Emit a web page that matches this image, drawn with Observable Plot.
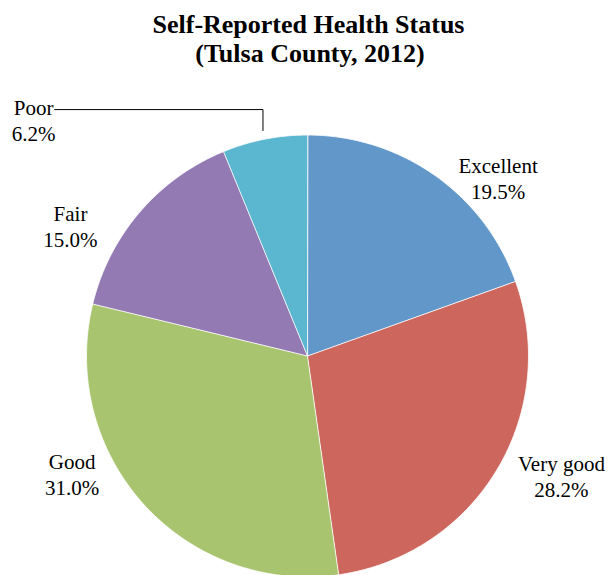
<!DOCTYPE html>
<html>
<head>
<meta charset="utf-8">
<script src="https://cdn.jsdelivr.net/npm/d3@7"></script>
<script src="https://cdn.jsdelivr.net/npm/@observablehq/plot@0.6"></script>
<style>
  html, body { margin: 0; padding: 0; background: #fff; }
  #title {
    width: 608px; text-align: center; box-sizing: border-box;
    font-family: "Liberation Serif", "Times New Roman", serif; font-weight: bold;
    font-size: 26px; line-height: 29px; padding-top: 10px; height: 68px; color: #000;
  }
  #chart svg text { font-family: "Liberation Serif", "Times New Roman", serif !important; }
</style>
</head>
<body>
<div id="title"><div style="margin-left:9px">Self-Reported Health Status</div><div style="margin-left:12px">(Tulsa County, 2012)</div></div>
<div id="chart"></div>
<script>
// ---- data ----
const categories = ["Excellent", "Very good", "Good", "Fair", "Poor"];
const values = [19.5, 28.2, 31.0, 15.0, 6.2];
const valueLabels = ["19.5%", "28.2%", "31.0%", "15.0%", "6.2%"];
const colors = ["#6197c9", "#cd675d", "#a9c46e", "#937ab2", "#5bb6d0"];

// ---- label layout (polar: degrees clockwise from 12 o'clock, distance in radii) ----
const labelAngle = [46.9, 115.3, 243.4, 298.8, 310.8];
const labelDist = [1.181, 1.271, 1.191, 1.224, 1.637];

// ---- geometry ----
const W = 608, H = 507, R = 221, CX = 307, CY = 287.5;
const data = categories.map((c, i) => ({category: c, value: values[i], label: valueLabels[i]}));
const arcs = d3.pie().sort(null).value(d => d.value)(data);

const slicePts = [];
arcs.forEach(a => {
  const n = Math.max(2, Math.ceil((a.endAngle - a.startAngle) / (Math.PI * 2) * 360));
  slicePts.push({category: a.data.category, x: 0, y: 0});
  for (let k = 0; k <= n; k++) {
    const t = a.startAngle + (a.endAngle - a.startAngle) * k / n;
    slicePts.push({category: a.data.category, x: Math.sin(t), y: Math.cos(t)});
  }
});

const labels = data.map((d, i) => {
  const t = labelAngle[i] * Math.PI / 180;
  return {text: d.category + "\n" + d.label, x: labelDist[i] * Math.sin(t), y: labelDist[i] * Math.cos(t)};
});

// leader line for the smallest slice ("Poor")
const poor = arcs[4];
const mid = (poor.startAngle + poor.endAngle) / 2;
const endX = 1.04 * Math.sin(mid), endY = 1.04 * Math.cos(mid);
const leaderY = 1.115;
const startX = labels[4].x + 21 / R;
const leader = [
  {x: startX, y: leaderY},
  {x: endX, y: leaderY},
  {x: endX, y: endY}
];

const chart = Plot.plot({
  width: W, height: H,
  margin: 0,
  x: {domain: [-CX / R, (W - CX) / R], range: [0, W], axis: null},
  y: {domain: [-(H - CY) / R, CY / R], range: [H, 0], axis: null},
  color: {domain: categories, range: colors},
  style: {background: "white", fontFamily: "'Liberation Serif', 'Times New Roman', serif"},
  marks: [
    Plot.line(slicePts, {x: "x", y: "y", z: "category", fill: "category", stroke: "white", strokeWidth: 0.8, curve: "linear-closed"}),
    Plot.line(leader, {x: "x", y: "y", stroke: "black", strokeWidth: 1}),
    Plot.text(labels, {x: "x", y: "y", text: "text", fontSize: 21, lineHeight: 1.238, lineAnchor: "middle", textAnchor: "middle",
      fontFamily: "'Liberation Serif', 'Times New Roman', serif", fill: "black"})
  ]
});
document.getElementById("chart").appendChild(chart);
</script>
</body>
</html>
